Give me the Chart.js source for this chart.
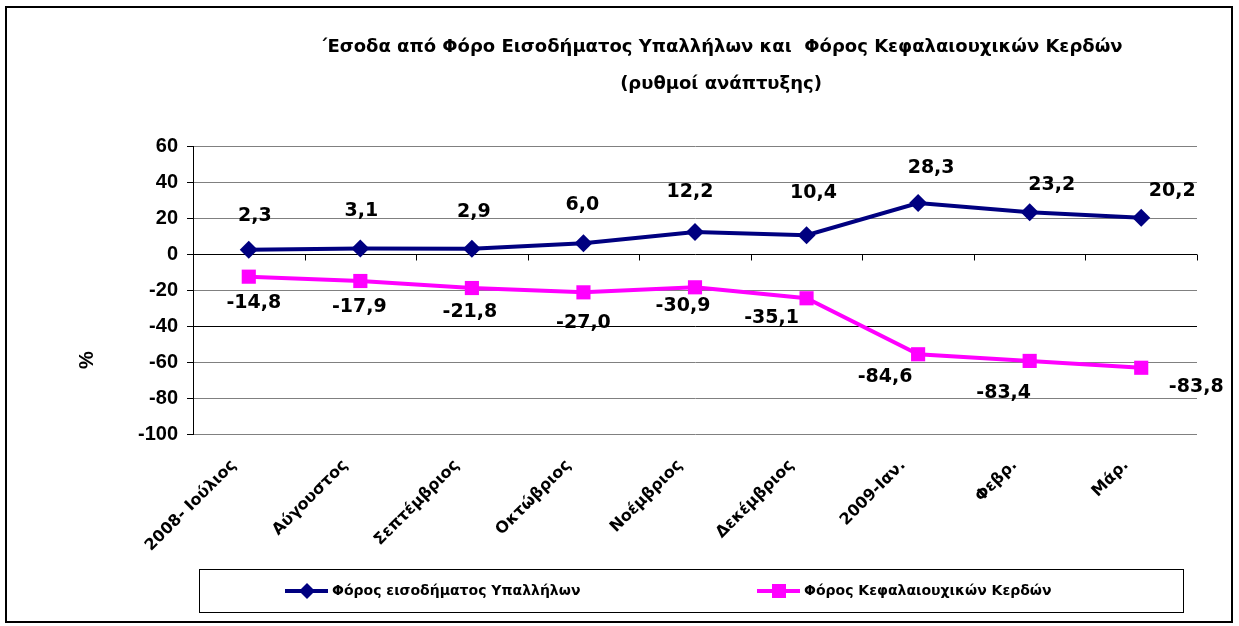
<!DOCTYPE html>
<html>
<head>
<meta charset="utf-8">
<script src="https://cdn.jsdelivr.net/npm/chart.js@4/dist/chart.umd.min.js"></script>
<style>
    html, body { margin: 0; padding: 0; background: #ffffff; }
    #wrap { width: 1239px; height: 626px; }
</style>
</head>
<body>
<div id="wrap"><canvas id="chartForoi"></canvas></div>
<script>
// ============================
// ΔΕΔΟΜΕΝΑ
// ============================
var categories = ['2008- Ιούλιος', 'Αύγουστος', 'Σεπτέμβριος', 'Οκτώβριος', 'Νοέμβριος', 'Δεκέμβριος', '2009-Ιαν.', 'Φεβρ.', 'Μάρ.'];

// τιμές όπως σχεδιάζονται στο γράφημα
var forosYpallilon = [2.3, 3.1, 2.9, 6.0, 12.2, 10.4, 28.3, 23.2, 20.2];
var forosKerdon = [-12.6, -15.0, -18.9, -21.3, -18.5, -24.6, -55.7, -59.4, -63.2];

// ετικέτες τιμών όπως γράφονται στο γράφημα
var etiketesYpallilon = ['2,3', '3,1', '2,9', '6,0', '12,2', '10,4', '28,3', '23,2', '20,2'];
var etiketesKerdon = ['-14,8', '-17,9', '-21,8', '-27,0', '-30,9', '-35,1', '-84,6', '-83,4', '-83,8'];

var yTicks = [60, 40, 20, 0, -20, -40, -60, -80, -100];

var seriesNames = ['Φόρος εισοδήματος Υπαλλήλων', 'Φόρος Κεφαλαιουχικών Κερδών'];
var titleLines = ['΄Εσοδα από Φόρο Εισοδήματος Υπαλλήλων και  Φόρος Κεφαλαιουχικών Κερδών', '(ρυθμοί ανάπτυξης)'];

// μετατόπιση ετικετών (px) σε σχέση με το σημείο
var metatopisiYpallilon = [[6, -34], [1, -37], [2, -37], [-1, -38], [-5, -40], [7, -42], [13, -35], [22, -27], [31, -27]];
var metatopisiKerdon = [[5, 26], [-1, 26], [-2, 24], [0, 31], [-12, 19], [-35, 20], [-33, 23], [-26, 32], [55, 19]];

var BLE = '#000080';
var ROZ = '#FF00FF';

function drawMarker(ctx, kind, x, y, color) {
    ctx.save();
    ctx.fillStyle = color;
    ctx.beginPath();
    if (kind === 'diamond') {
        ctx.moveTo(x, y - 8);
        ctx.lineTo(x + 8, y);
        ctx.lineTo(x, y + 8);
        ctx.lineTo(x - 8, y);
        ctx.closePath();
    } else {
        ctx.rect(x - 7, y - 7, 14, 14);
    }
    ctx.fill();
    ctx.restore();
}

var sxedio = {
    id: 'sxedio',
    beforeDraw: function (chart) {
        var ctx = chart.ctx;
        ctx.save();
        ctx.fillStyle = '#ffffff';
        ctx.fillRect(0, 0, chart.width, chart.height);
        ctx.restore();
    },
    afterDraw: function (chart) {
        var ctx = chart.ctx;
        var xs = chart.scales.x;
        var ys = chart.scales.y;
        ctx.save();

        // εξωτερικό πλαίσιο
        ctx.strokeStyle = '#000000';
        ctx.lineWidth = 2;
        ctx.strokeRect(6, 7, 1226, 615);

        // τίτλος
        ctx.fillStyle = '#000000';
        ctx.textAlign = 'center';
        ctx.textBaseline = 'middle';
        ctx.font = 'bold 18px "DejaVu Sans"';
        ctx.fillText(titleLines[0], 721, 47);
        ctx.fillText(titleLines[1], 721, 84);

        // τίτλος άξονα
        ctx.save();
        ctx.translate(87, 360);
        ctx.rotate(-Math.PI / 2);
        ctx.font = 'bold 20px "Liberation Sans"';
        ctx.fillText('%', 0, 0);
        ctx.restore();

        // μικρές γραμμές στον άξονα 0
        var y0 = Math.round(ys.getPixelForValue(0)) + 0.5;
        var step = (xs.right - xs.left) / categories.length;
        ctx.strokeStyle = '#000000';
        ctx.lineWidth = 1;
        ctx.beginPath();
        for (var i = 1; i <= categories.length; i++) {
            var xx = Math.round(xs.left + i * step) + 0.5;
            ctx.moveTo(xx, y0);
            ctx.lineTo(xx, y0 + 6);
        }
        ctx.stroke();

        // ετικέτες τιμών
        ctx.font = 'bold 19px "DejaVu Sans"';
        ctx.fillStyle = '#000000';
        var m0 = chart.getDatasetMeta(0).data;
        var m1 = chart.getDatasetMeta(1).data;
        for (var j = 0; j < categories.length; j++) {
            ctx.fillText(etiketesYpallilon[j], m0[j].x + metatopisiYpallilon[j][0], m0[j].y + metatopisiYpallilon[j][1]);
            ctx.fillText(etiketesKerdon[j], m1[j].x + metatopisiKerdon[j][0], m1[j].y + metatopisiKerdon[j][1]);
        }

        // υπόμνημα
        ctx.strokeStyle = '#000000';
        ctx.lineWidth = 1;
        ctx.strokeRect(199.5, 569.5, 984, 43);
        var ly = 591;
        var items = [
            { x: 285, color: BLE, kind: 'diamond', text: seriesNames[0] },
            { x: 757, color: ROZ, kind: 'square', text: seriesNames[1] }
        ];
        ctx.font = 'bold 14px "DejaVu Sans"';
        ctx.textAlign = 'left';
        items.forEach(function (it) {
            ctx.strokeStyle = it.color;
            ctx.lineWidth = 4;
            ctx.beginPath();
            ctx.moveTo(it.x, ly);
            ctx.lineTo(it.x + 43, ly);
            ctx.stroke();
            drawMarker(ctx, it.kind, it.x + 22, ly, it.color);
            ctx.fillStyle = '#000000';
            ctx.fillText(it.text, it.x + 47, ly);
        });

        ctx.restore();
    }
};

var ctxForoi = document.getElementById('chartForoi');

var graficoForoi = new Chart(ctxForoi, {
    type: 'line',
    data: {
        labels: categories,
        datasets: [{
            label: seriesNames[0],
            data: forosYpallilon,
            borderColor: BLE,
            backgroundColor: BLE,
            borderWidth: 4,
            pointStyle: 'rectRot',
            pointRadius: 9,
            pointBorderWidth: 0,
            tension: 0
        }, {
            label: seriesNames[1],
            data: forosKerdon,
            borderColor: ROZ,
            backgroundColor: ROZ,
            borderWidth: 4,
            pointStyle: 'rect',
            pointRadius: 10,
            pointBorderWidth: 0,
            tension: 0
        }]
    },
    options: {
        responsive: true,
        maintainAspectRatio: false,
        animation: false,
        layout: { padding: { left: 80, right: 42, top: 146, bottom: 60 } },
        plugins: {
            legend: { display: false },
            title: { display: false },
            tooltip: { enabled: false }
        },
        scales: {
            x: {
                offset: true,
                grid: { display: false },
                border: { display: false },
                ticks: {
                    color: '#000000',
                    font: { family: 'DejaVu Sans', size: 16, weight: 'bold' },
                    minRotation: 45,
                    maxRotation: 45,
                    autoSkip: false,
                    padding: 14,
                    labelOffset: -15
                },
                afterFit: function (scale) { scale.height = 132; }
            },
            y: {
                min: yTicks[yTicks.length - 1],
                max: yTicks[0],
                afterBuildTicks: function (scale) {
                    scale.ticks = yTicks.map(function (v) { return { value: v }; });
                },
                grid: {
                    color: function (c) {
                        return (c.tick && (c.tick.value === 0 || c.tick.value === -40)) ? '#000000' : '#808080';
                    },
                    tickColor: '#000000',
                    tickLength: 6
                },
                border: { display: true, color: '#000000', width: 1 },
                ticks: {
                    color: '#000000',
                    font: { family: 'Liberation Sans', size: 20, weight: 'bold' },
                    padding: 9
                },
                afterFit: function (scale) { scale.width = 113; }
            }
        }
    },
    plugins: [sxedio]
});
</script>
</body>
</html>
